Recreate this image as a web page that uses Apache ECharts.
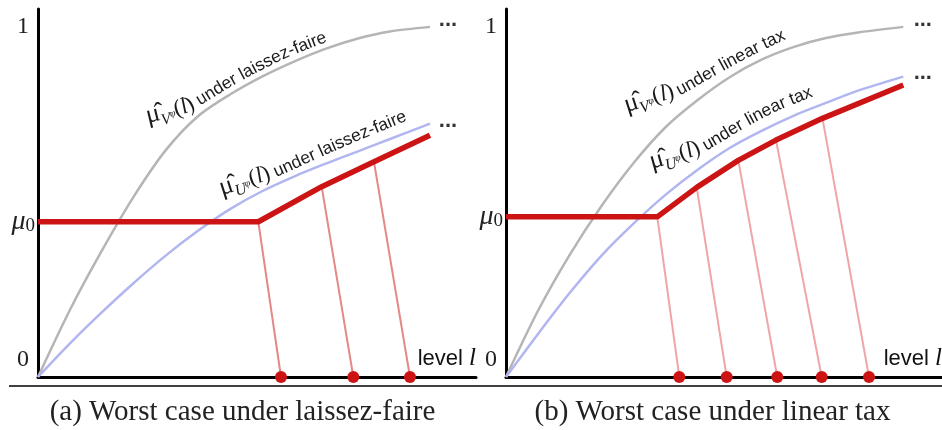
<!DOCTYPE html>
<html><head><meta charset="utf-8">
<script src="https://cdn.jsdelivr.net/npm/echarts@6/dist/echarts.min.js"></script>
<style>html,body{margin:0;padding:0;background:#fff}#c{width:942px;height:430px}</style>
</head><body><div id="c"></div>
<script>
// ---------- Panel (a): laissez-faire ----------
const grayA = [[0,0],[7.31,0.192],[14.61,0.361],[21.92,0.516],[29.22,0.648],[36.53,0.744],[43.84,0.806],[51.14,0.857],[58.45,0.900],[65.75,0.937],[73.06,0.966],[80.37,0.986],[89.50,0.999]];
const blueA = [[0,0],[7.31,0.096],[14.61,0.185],[21.92,0.269],[29.22,0.347],[36.53,0.417],[43.84,0.479],[51.14,0.530],[58.45,0.572],[65.75,0.609],[73.06,0.644],[80.37,0.679],[89.50,0.723]];
const redA = [[0,0.443],[50.30,0.443],[64.77,0.543],[76.71,0.614],[89.50,0.690]];
const dotsA = [55.48, 71.99, 84.93];
const mu0A = 0.443;
// ---------- Panel (b): linear tax ----------
const grayB = [[0,0],[7.34,0.189],[14.68,0.350],[22.02,0.490],[29.36,0.612],[36.70,0.714],[44.04,0.791],[51.38,0.856],[58.72,0.906],[66.06,0.942],[73.39,0.967],[80.73,0.983],[91.12,0.999]];
const blueB = [[0,0],[7.34,0.123],[14.68,0.241],[22.02,0.348],[29.36,0.439],[36.70,0.521],[44.04,0.592],[51.38,0.654],[58.72,0.703],[66.06,0.746],[73.39,0.782],[80.73,0.817],[91.12,0.857]];
const redB = [[0,0.457],[34.70,0.457],[43.74,0.541],[53.28,0.618],[61.93,0.676],[72.59,0.738],[91.12,0.833]];
const dotsB = [39.75, 50.62, 62.22, 72.41, 83.26];
const mu0B = 0.457;
// ---------- Text ----------
const captions = ['(a) Worst case under laissez-faire', '(b) Worst case under linear tax'];
const axisName = ['level ', 'l'];
const regimeA = 'laissez-faire', regimeB = 'linear tax';
const endMark = '...';

// baseline paths of the curve labels (data coordinates of each panel)
const pathGrayA = [[25.11,0.722],[33.56,0.750],[38.13,0.782],[46.12,0.842],[56.85,0.910],[67.81,0.964]];
const pathBlueA = [[42.01,0.516],[52.97,0.562],[63.24,0.619],[73.06,0.673],[82.65,0.722]];
const pathGrayB = [[27.75,0.753],[35.78,0.785],[39.91,0.802],[48.39,0.862],[55.96,0.913],[63.53,0.959]];
const pathBlueB = [[33.49,0.591],[44.04,0.633],[54.82,0.710],[62.39,0.759],[69.72,0.796]];
const dotsEndA = [[93.6, 1.0], [93.6, 0.710]];
const dotsEndB = [[95.6, 1.0], [95.6, 0.847]];

const GRAY = '#b5b5b5', BLUE = '#b1b6f1', RED = '#cc1414';
const SERIF = 'Liberation Serif', SANS = 'Liberation Sans';

function panelSeries(gi, gray, blue, red, dots, ends, pink) {
  const base = {xAxisIndex: gi, yAxisIndex: gi, silent: true, animation: false};
  return [
    Object.assign({type: 'line', data: gray, smooth: 0.3, showSymbol: false, lineStyle: {color: GRAY, width: 2.5}, z: 2}, base),
    Object.assign({type: 'line', data: blue, smooth: 0.3, showSymbol: false, lineStyle: {color: BLUE, width: 2.5}, z: 2}, base),
    Object.assign({type: 'lines', coordinateSystem: 'cartesian2d', data: dots.map((x, i) => ({coords: [red[i + 1], [x, 0]]})), lineStyle: {color: pink, width: 2, opacity: 1, curveness: 0}, z: 3}, base),
    Object.assign({type: 'line', data: red, showSymbol: false, lineStyle: {color: RED, width: 5.5}, z: 4}, base),
    Object.assign({type: 'scatter', data: dots.map(x => [x, 0]), symbolSize: 12, itemStyle: {color: RED, opacity: 1}, z: 5}, base),
    Object.assign({type: 'scatter', symbolSize: 0, z: 6, data: ends,
      label: {show: true, position: 'inside', formatter: endMark, fontFamily: SANS, fontWeight: 'bold', fontSize: 22, color: '#000', offset: [0, -7]}}, base)
  ];
}

function yAxis(gi, mu0) {
  return {
    gridIndex: gi, type: 'value', min: 0, max: 1.05,
    axisLine: {show: true, onZero: false, lineStyle: {color: '#000', width: 3}},
    axisTick: {show: false}, splitLine: {show: false},
    axisLabel: {
      customValues: [0, mu0, 1], margin: 3,
      formatter: function (v) {
        if (Math.abs(v - 1) < 1e-9) return '{n|1}';
        if (v === 0) return '{z|0}';
        return '{m|μ}{o|0}';
      },
      rich: {
        n: {fontFamily: SERIF, fontSize: 24, color: '#222', padding: [0, 6, 0, 0]},
        z: {fontFamily: SERIF, fontSize: 24, color: '#222', padding: [0, 6, 34, 0]},
        m: {fontFamily: SERIF, fontStyle: 'italic', fontSize: 28, color: '#222'},
        o: {fontFamily: SERIF, fontSize: 19, color: '#222', padding: [8, 0, 0, 0]}
      }
    }
  };
}
function xAxis(gi) {
  return {
    gridIndex: gi, type: 'value', min: 0, max: 100,
    axisLine: {show: true, onZero: false, lineStyle: {color: '#000', width: 3}},
    axisTick: {show: false}, splitLine: {show: false}, axisLabel: {show: false},
    name: '{a|' + axisName[0] + '}{b|' + axisName[1] + '}', nameLocation: 'end', nameGap: 0,
    nameTextStyle: {align: 'right', verticalAlign: 'bottom', padding: [0, 0, 6, 0],
      rich: {a: {fontFamily: SANS, fontSize: 22, color: '#111'}, b: {fontFamily: SERIF, fontStyle: 'italic', fontSize: 25, color: '#111'}}}
  };
}

const chart = echarts.init(document.getElementById('c'), null, {renderer: 'canvas'});
chart.setOption({
  animation: false,
  backgroundColor: '#fff',
  grid: [
    {left: 38, top: 9, width: 438, height: 368, containLabel: false, outerBoundsMode: 'none'},
    {left: 506, top: 9, width: 436, height: 368, containLabel: false, outerBoundsMode: 'none'}
  ],
  xAxis: [xAxis(0), xAxis(1)],
  yAxis: [yAxis(0, mu0A), yAxis(1, mu0B)],
  series: [].concat(
    panelSeries(0, grayA, blueA, redA, dotsA, dotsEndA, '#e48888'),
    panelSeries(1, grayB, blueB, redB, dotsB, dotsEndB, '#f0a6a6')
  )
});

// ---- text laid along a baseline path (path given in data coords) ----
const mctx = document.createElement('canvas').getContext('2d');
function fontStr(r) { return (r.italic ? 'italic ' : '') + r.size + 'px "' + r.family + '"'; }
function mathRuns(letter, rest) {
  return [
    {text: 'μ̂', family: SERIF, size: 26, shift: 0},
    {text: letter, family: SERIF, size: 16, italic: true, shift: 5},
    {text: 'φ', family: SERIF, size: 10, italic: true, shift: -1},
    {text: '(', family: SERIF, size: 23, shift: 0},
    {text: 'l', family: SERIF, size: 23, italic: true, shift: 0},
    {text: ')', family: SERIF, size: 23, shift: 0},
    {text: ' under ' + rest, family: SANS, size: 17.5, shift: 0}
  ];
}
function textOnPath(gi, pathData, runs) {
  const P = pathData.map(p => chart.convertToPixel({gridIndex: gi}, p));
  const pts = [];
  for (let i = 0; i < P.length - 1; i++) {
    const p0 = P[i - 1] || P[i], p1 = P[i], p2 = P[i + 1], p3 = P[i + 2] || P[i + 1];
    for (let k = 0; k < 20; k++) {
      const t = k / 20, t2 = t * t, t3 = t2 * t;
      const f = j => 0.5 * ((2 * p1[j]) + (-p0[j] + p2[j]) * t + (2 * p0[j] - 5 * p1[j] + 4 * p2[j] - p3[j]) * t2 + (-p0[j] + 3 * p1[j] - 3 * p2[j] + p3[j]) * t3);
      pts.push([f(0), f(1)]);
    }
  }
  pts.push(P[P.length - 1]);
  const L = [0];
  for (let i = 1; i < pts.length; i++) L.push(L[i - 1] + Math.hypot(pts[i][0] - pts[i - 1][0], pts[i][1] - pts[i - 1][1]));
  function at(s) {
    if (s <= 0) { const d = [pts[1][0] - pts[0][0], pts[1][1] - pts[0][1]], l = Math.hypot(d[0], d[1]); return [pts[0][0] + d[0] / l * s, pts[0][1] + d[1] / l * s]; }
    const n = pts.length - 1;
    if (s >= L[n]) { const d = [pts[n][0] - pts[n - 1][0], pts[n][1] - pts[n - 1][1]], l = Math.hypot(d[0], d[1]); return [pts[n][0] + d[0] / l * (s - L[n]), pts[n][1] + d[1] / l * (s - L[n])]; }
    let i = 1; while (L[i] < s) i++;
    const u = (s - L[i - 1]) / (L[i] - L[i - 1]);
    return [pts[i - 1][0] + (pts[i][0] - pts[i - 1][0]) * u, pts[i - 1][1] + (pts[i][1] - pts[i - 1][1]) * u];
  }
  const out = [];
  let s = 0;
  runs.forEach(r => {
    const font = fontStr(r);
    mctx.font = font;
    (r.text.match(/.\u0302?/gu) || []).forEach(tok => {
      const w = mctx.measureText(tok).width;
      const sc = s + w / 2;
      const a = at(sc - 4), b = at(sc + 4), p = at(sc);
      let tx = b[0] - a[0], ty = b[1] - a[1]; const tl = Math.hypot(tx, ty); tx /= tl; ty /= tl;
      const nx = ty, ny = -tx;
      const d = 0.3 * r.size - r.shift;
      if (tok !== ' ') out.push({type: 'text', silent: true, x: p[0] + nx * d, y: p[1] + ny * d, rotation: Math.atan2(-ty, tx), z: 10,
        style: {text: tok, font: font, fill: '#1a1a1a', align: 'center', verticalAlign: 'middle', textAlign: 'center', textVerticalAlign: 'middle'}});
      s += w;
    });
  });
  return out;
}

const graphics = [
  {type: 'line', shape: {x1: 9, y1: 386, x2: 942, y2: 386}, style: {stroke: '#000', lineWidth: 1.5}, silent: true},
  {type: 'text', x: 242.5, y: 412, style: {text: captions[0], fill: '#222', font: '29px "Liberation Serif"', align: 'center', verticalAlign: 'middle', textAlign: 'center', textVerticalAlign: 'middle'}},
  {type: 'text', x: 712.5, y: 412, style: {text: captions[1], fill: '#222', font: '29px "Liberation Serif"', align: 'center', verticalAlign: 'middle', textAlign: 'center', textVerticalAlign: 'middle'}}
].concat(
  textOnPath(0, pathGrayA, mathRuns('V', regimeA)),
  textOnPath(0, pathBlueA, mathRuns('U', regimeA)),
  textOnPath(1, pathGrayB, mathRuns('V', regimeB)),
  textOnPath(1, pathBlueB, mathRuns('U', regimeB))
);
chart.setOption({graphic: graphics});
</script></body></html>
